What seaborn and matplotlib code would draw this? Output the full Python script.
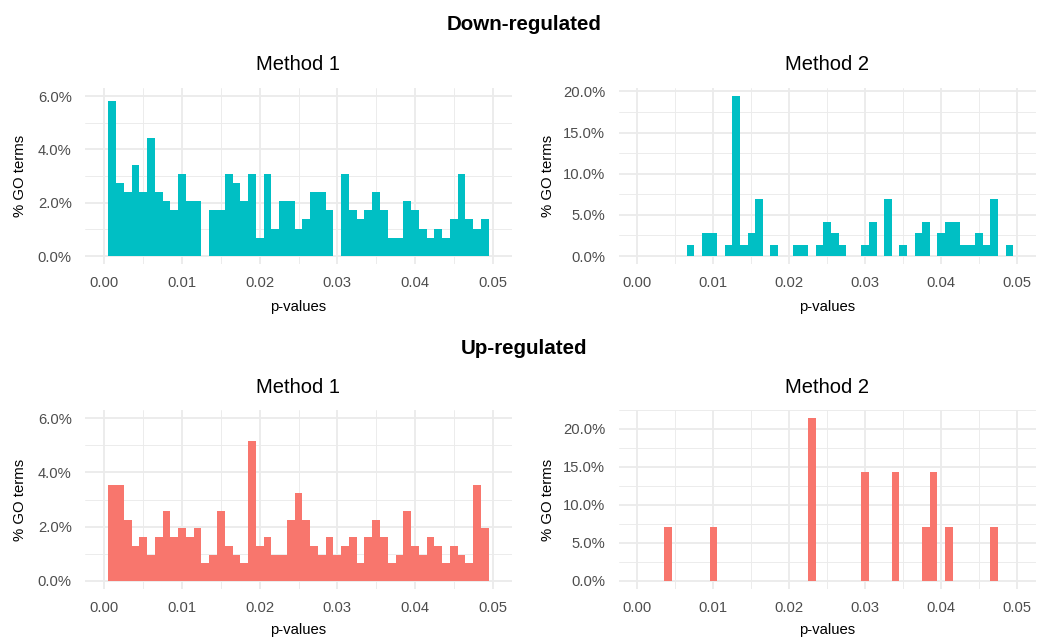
import numpy as np
import pandas as pd
import matplotlib
matplotlib.use("Agg")
import matplotlib.pyplot as plt
import seaborn as sns
from matplotlib.ticker import FuncFormatter, MultipleLocator

# ---------------- data (bin centres = p-value, height = % of GO terms) -------------
m1_pvalues = [0.001, 0.002, 0.003, 0.004, 0.005, 0.006, 0.007, 0.008, 0.009, 0.010,
              0.011, 0.012, 0.013, 0.014, 0.015, 0.016, 0.017, 0.018, 0.019, 0.020,
              0.021, 0.022, 0.023, 0.024, 0.025, 0.026, 0.027, 0.028, 0.029, 0.030,
              0.031, 0.032, 0.033, 0.034, 0.035, 0.036, 0.037, 0.038, 0.039, 0.040,
              0.041, 0.042, 0.043, 0.044, 0.045, 0.046, 0.047, 0.048, 0.049]

down_m1_pct = [5.80, 2.73, 2.39, 3.41, 2.39, 4.44, 2.39, 2.05, 1.71, 3.07,
               2.05, 2.05, 0.00, 1.71, 1.71, 3.07, 2.73, 2.05, 3.07, 0.68,
               3.07, 1.02, 2.05, 2.05, 1.02, 1.37, 2.39, 2.39, 1.71, 0.00,
               3.07, 1.71, 1.37, 1.71, 2.39, 1.71, 0.68, 0.68, 2.05, 1.71,
               1.02, 0.68, 1.02, 0.68, 1.37, 3.07, 1.37, 1.02, 1.37]

up_m1_pct = [3.55, 3.55, 2.26, 1.29, 1.61, 0.97, 1.61, 2.58, 1.61, 1.94,
             1.61, 1.94, 0.65, 0.97, 2.58, 1.29, 0.97, 0.65, 5.16, 1.29,
             1.61, 0.97, 0.97, 2.26, 3.23, 2.26, 1.29, 0.97, 1.61, 0.97,
             1.29, 1.61, 0.65, 1.61, 2.26, 1.61, 0.65, 0.97, 2.58, 1.29,
             0.97, 1.61, 1.29, 0.65, 1.29, 0.97, 0.65, 3.55, 1.94]

down_m2_pvalues = [0.007, 0.009, 0.010, 0.012, 0.013, 0.014, 0.015, 0.016, 0.018, 0.021,
                   0.022, 0.024, 0.025, 0.026, 0.027, 0.030, 0.031, 0.033, 0.035, 0.037,
                   0.038, 0.040, 0.041, 0.042, 0.043, 0.044, 0.045, 0.046, 0.047, 0.049]
down_m2_pct = [1.39, 2.78, 2.78, 1.39, 19.44, 1.39, 2.78, 6.94, 1.39, 1.39,
               1.39, 1.39, 4.17, 2.78, 1.39, 1.39, 4.17, 6.94, 1.39, 2.78,
               4.17, 2.78, 4.17, 4.17, 1.39, 1.39, 2.78, 1.39, 6.94, 1.39]

up_m2_pvalues = [0.004, 0.010, 0.023, 0.030, 0.034, 0.038, 0.039, 0.041, 0.047]
up_m2_pct = [7.14, 7.14, 21.43, 14.29, 14.29, 7.14, 14.29, 7.14, 7.14]

row_titles = ["Down-regulated", "Up-regulated"]
panel_titles = ["Method 1", "Method 2"]
x_ticks = [0.00, 0.01, 0.02, 0.03, 0.04, 0.05]
x_label = "p-values"
y_label = "% GO terms"

DOWN_COLOR = "#00BFC4"
UP_COLOR = "#F8766D"

# ---------------- figure -----------------------------------------------------------
sns.set_theme(style="white")
plt.rcParams['font.family'] = ['Liberation Sans', 'DejaVu Sans']

W, H = 1049, 639
fig = plt.figure(figsize=(W / 100, H / 100), dpi=100)


def px_axes(x0, y0, x1, y1):
    return fig.add_axes([x0 / W, 1 - y1 / H, (x1 - x0) / W, (y1 - y0) / H])


bin_edges = [float(e) for e in np.linspace(0.0005, 0.0495, 50)]

panels = [
    ((85, 88, 512, 264), m1_pvalues, down_m1_pct, DOWN_COLOR, (-0.30, 6.30), 2, 1),
    ((618.5, 88, 1036, 264), down_m2_pvalues, down_m2_pct, DOWN_COLOR, (-0.97, 20.41), 5, 2.5),
    ((85, 410, 512, 589), m1_pvalues, up_m1_pct, UP_COLOR, (-0.30, 6.30), 2, 1),
    ((618.5, 410, 1036, 589), up_m2_pvalues, up_m2_pct, UP_COLOR, (-1.07, 22.50), 5, 2.5),
]

title_baselines = [70, 70, 393, 393]
ylab_centers = [20, 548, 20, 548]
xlab_centers = [307, 307, 630, 630]

for i, (box, pv, pct, col, ylim, maj, mnr) in enumerate(panels):
    x0, y0, x1, y1 = box
    ax = px_axes(*box)
    df = pd.DataFrame({"p": pv, "pct": pct})
    sns.histplot(data=df, x="p", weights="pct", bins=bin_edges, color=col, alpha=1,
                 linewidth=0, ax=ax, zorder=2)
    ax.set_xlim(-0.0025, 0.0525)
    ax.set_ylim(*ylim)
    ax.set_xticks(x_ticks)
    ax.xaxis.set_minor_locator(MultipleLocator(0.005))
    ax.yaxis.set_major_locator(MultipleLocator(maj))
    ax.yaxis.set_minor_locator(MultipleLocator(mnr))
    ax.xaxis.set_major_formatter(FuncFormatter(lambda v, p: f"{v:.2f}"))
    ax.yaxis.set_major_formatter(FuncFormatter(lambda v, p: f"{v:.1f}%"))
    ax.grid(which='major', color='#EBEBEB', linewidth=1.3, zorder=0)
    ax.grid(which='minor', color='#EBEBEB', linewidth=0.65, zorder=0)
    ax.set_axisbelow(True)
    for s in ax.spines.values():
        s.set_visible(False)
    ax.tick_params(which='both', length=0)
    ax.tick_params(axis='x', pad=8.5, labelsize=10.6, labelcolor='#4D4D4D')
    ax.tick_params(axis='y', pad=9.5, labelsize=10.6, labelcolor='#4D4D4D')
    ax.set_facecolor('white')

    h = y1 - y0
    w = x1 - x0
    ax.set_title(panel_titles[i % 2], fontsize=14.5, color='black', pad=0,
                 y=(y1 - title_baselines[i]) / h, va='baseline')
    ax.set_xlabel(x_label, fontsize=10.7, color='black', va='center')
    ax.xaxis.set_label_coords(0.5, -(xlab_centers[i] - y1) / h)
    ax.set_ylabel(y_label, fontsize=10.7, color='black', va='center')
    ax.yaxis.set_label_coords((ylab_centers[i] - x0) / w, 0.5)

fig.text(0.5, 1 - 24 / H, row_titles[0], ha='center', va='center',
         fontsize=14.8, fontweight='bold', color='black')
fig.text(0.5, 1 - 349 / H, row_titles[1], ha='center', va='center',
         fontsize=14.8, fontweight='bold', color='black')

fig.savefig("out.png", dpi=100, facecolor='white')
